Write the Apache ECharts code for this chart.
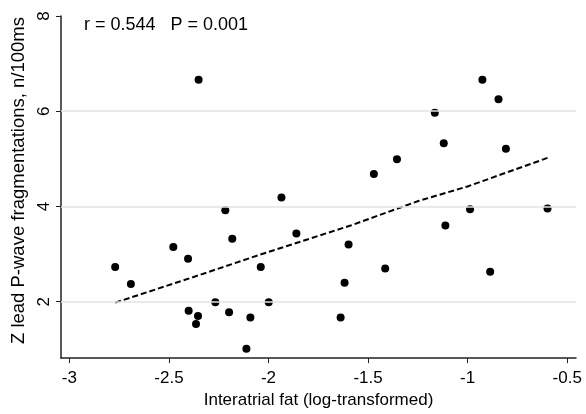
<!DOCTYPE html>
<html>
<head>
<meta charset="utf-8">
<title>Interatrial fat vs P-wave fragmentations</title>
<script src="https://cdn.jsdelivr.net/npm/echarts@6.0.0/dist/echarts.min.js"></script>
<style>
  html, body { margin: 0; padding: 0; background: #fff; }
  #chart { width: 586px; height: 414px; }
</style>
</head>
<body>
<div id="chart"></div>
<script>
// scatter points: interatrial fat (log) / fragmentations per 100ms
const fatLog = [
  -2.770, -2.691, -2.478, -2.404, -2.401, -2.364, -2.354, -2.351, -2.267, -2.217, -2.198,
  -2.182, -2.111, -2.091, -2.039, -1.999, -1.935, -1.860, -1.638, -1.618, -1.598, -1.471,
  -1.414, -1.355, -1.165, -1.120, -1.112, -0.988, -0.926, -0.887, -0.845, -0.808, -0.599
];
const pwFrag = [
  2.73, 2.37, 3.15, 2.90, 1.81, 1.53, 1.70, 6.66, 1.99, 3.92, 1.78,
  3.32, 1.01, 1.67, 2.73, 1.99, 4.19, 3.43, 1.67, 2.40, 3.20, 4.68,
  2.70, 4.99, 5.97, 5.33, 3.60, 3.94, 6.66, 2.63, 6.25, 5.21, 3.96
];
// dashed fit line
const fitX = [-2.770, -2.376, -2.041, -1.588, -1.244, -1.001, -0.599];
const fitY = [1.98, 2.52, 2.99, 3.60, 4.12, 4.42, 5.02];
// tick labels
const xTicks = [-3, -2.5, -2, -1.5, -1, -0.5];
const yTicks = [2, 4, 6, 8];
const gridY = [2, 4, 6];

const statText = 'r = 0.544   P = 0.001';

const font = '"Liberation Sans", Arial, sans-serif';

const chart = echarts.init(document.getElementById('chart'));
const option = {
  animation: false,
  textStyle: { fontFamily: font },
  title: {
    text: statText,
    left: 84,
    top: 16,
    padding: 0,
    textStyle: { fontFamily: font, fontSize: 18, fontWeight: 'normal', color: '#000' }
  },
  grid: { left: 61, right: 10, top: 16, bottom: 54 },
  xAxis: {
    type: 'value',
    min: -3.042,
    max: -0.456,
    name: 'Interatrial fat (log-transformed)',
    nameLocation: 'middle',
    nameGap: 33,
    nameTextStyle: { fontFamily: font, fontSize: 17, color: '#000' },
    axisLine: { show: true, onZero: false, lineStyle: { color: '#222', width: 1.5 } },
    axisTick: { show: true, length: 5, customValues: xTicks, lineStyle: { color: '#222' } },
    axisLabel: { customValues: xTicks, margin: 12, fontSize: 17, color: '#000', fontFamily: font },
    splitLine: { show: false }
  },
  yAxis: {
    type: 'value',
    min: 0.816,
    max: 8,
    name: 'Z lead P-wave fragmentations, n/100ms',
    nameLocation: 'middle',
    nameGap: 26,
    // left padding pushes the rotated title up a little
    nameTextStyle: { fontFamily: font, fontSize: 18.5, color: '#000', padding: [0, 0, 0, 13] },
    axisLine: { show: true, onZero: false, lineStyle: { color: '#222', width: 1.5 } },
    axisTick: { show: true, length: 5, customValues: yTicks, lineStyle: { color: '#222' } },
    axisLabel: { customValues: yTicks, rotate: 90, margin: 8, fontSize: 17, color: '#000', fontFamily: font },
    splitLine: { show: false }
  },
  series: [
    {
      // grid lines at 2, 4, 6 only
      type: 'line',
      data: [],
      silent: true,
      markLine: {
        silent: true,
        symbol: 'none',
        label: { show: false },
        lineStyle: { color: '#e3e3e3', width: 1.5, type: 'solid' },
        data: gridY.map(v => ({ yAxis: v }))
      }
    },
    {
      name: 'points',
      type: 'scatter',
      symbol: 'circle',
      symbolSize: 8,
      itemStyle: { color: '#000', opacity: 1 },
      data: fatLog.map((x, i) => [x, pwFrag[i]])
    },
    {
      name: 'fit',
      type: 'line',
      showSymbol: false,
      lineStyle: { color: '#000', width: 2, type: [6, 3] },
      data: fitX.map((x, i) => [x, fitY[i]])
    }
  ]
};
chart.setOption(option);
</script>
</body>
</html>
